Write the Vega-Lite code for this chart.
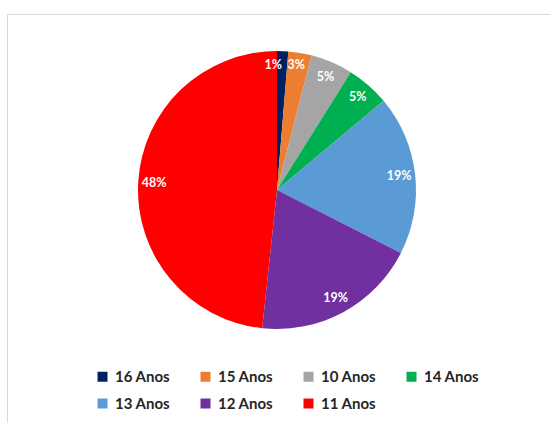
{
  "$schema": "https://vega.github.io/schema/vega-lite/v6.json",
  "autosize": {"type": "none"},
  "width": 560,
  "height": 430,
  "padding": {"left": 7, "top": 14, "right": 0, "bottom": 0},
  "background": "white",
  "view": {"stroke": "#d9d9d9", "strokeWidth": 1, "fill": "white"},
  "config": {
    "view": {"stroke": "#d9d9d9", "strokeWidth": 1},
    "font": "Lato"
  },
  "data": {
    "values": [
      {"idade": "16 Anos", "ordem": 1, "pct": 0.013},
      {"idade": "15 Anos", "ordem": 2, "pct": 0.027},
      {"idade": "10 Anos", "ordem": 3, "pct": 0.049},
      {"idade": "14 Anos", "ordem": 4, "pct": 0.050},
      {"idade": "13 Anos", "ordem": 5, "pct": 0.186},
      {"idade": "12 Anos", "ordem": 6, "pct": 0.192},
      {"idade": "11 Anos", "ordem": 7, "pct": 0.483}
    ]
  },
  "encoding": {
    "theta": {"field": "pct", "type": "quantitative", "stack": true},
    "order": {"field": "ordem", "type": "quantitative", "sort": "ascending"},
    "color": {
      "field": "idade",
      "type": "nominal",
      "scale": {
        "domain": ["16 Anos", "15 Anos", "10 Anos", "14 Anos", "13 Anos", "12 Anos", "11 Anos"],
        "range": ["#002060", "#ED7D31", "#A5A5A5", "#00B050", "#5B9BD5", "#7030A0", "#FF0000"]
      },
      "legend": {
        "orient": "none",
        "legendX": 88,
        "legendY": 355,
        "direction": "horizontal",
        "columns": 4,
        "title": null,
        "symbolType": "square",
        "symbolSize": 100,
        "symbolStrokeWidth": 0,
        "labelFont": "Lato",
        "labelFontWeight": "bold",
        "labelFontSize": 15,
        "labelColor": "#262626",
        "labelOffset": 5,
        "columnPadding": 27,
        "rowPadding": 11
      }
    }
  },
  "layer": [
    {
      "mark": {"type": "arc", "outerRadius": 139, "xOffset": -10, "yOffset": -39, "stroke": null}
    },
    {
      "mark": {
        "type": "text",
        "radius": 123,
        "xOffset": -10,
        "yOffset": -39,
        "fill": "white",
        "font": "Lato",
        "fontWeight": "bold",
        "fontSize": 12.5,
        "align": "center",
        "baseline": "middle"
      },
      "encoding": {
        "text": {
          "condition": {"test": "datum.ordem <= 2", "value": ""},
          "field": "pct", "type": "quantitative", "format": ".0%"
        },
        "color": {"value": "white"}
      }
    },
    {
      "transform": [{"filter": "datum.ordem == 1"}],
      "mark": {
        "type": "text",
        "radius": 125,
        "xOffset": -10,
        "yOffset": -39,
        "fill": "white",
        "font": "Lato",
        "fontWeight": "bold",
        "fontSize": 12.5,
        "align": "right",
        "baseline": "middle"
      },
      "encoding": {
        "text": {"field": "pct", "type": "quantitative", "format": ".0%"},
        "color": {"value": "white"}
      }
    },
    {
      "transform": [{"filter": "datum.ordem == 2"}],
      "mark": {
        "type": "text",
        "radius": 125,
        "xOffset": -10,
        "yOffset": -39,
        "fill": "white",
        "font": "Lato",
        "fontWeight": "bold",
        "fontSize": 12.5,
        "align": "left",
        "baseline": "middle"
      },
      "encoding": {
        "text": {"field": "pct", "type": "quantitative", "format": ".0%"},
        "color": {"value": "white"}
      }
    }
  ]
}
